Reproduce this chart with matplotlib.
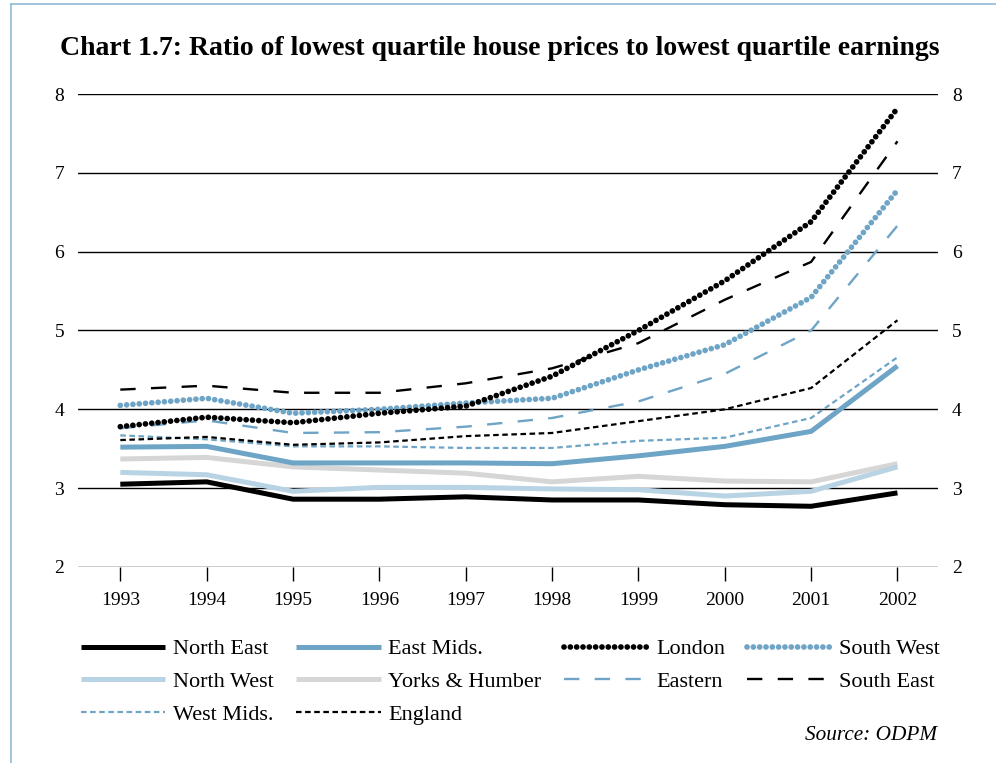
import numpy as np
import matplotlib
matplotlib.use("Agg")
import matplotlib.pyplot as plt
from matplotlib.lines import Line2D

plt.rcParams['font.family'] = ['Liberation Serif', 'DejaVu Serif']

# data
years = [1993, 1994, 1995, 1996, 1997, 1998, 1999, 2000, 2001, 2002]

north_east = [3.05, 3.08, 2.86, 2.86, 2.89, 2.85, 2.85, 2.79, 2.77, 2.94]
north_west = [3.20, 3.17, 2.96, 3.01, 3.01, 2.99, 2.98, 2.90, 2.96, 3.27]
west_mids  = [3.67, 3.62, 3.53, 3.53, 3.51, 3.51, 3.60, 3.64, 3.89, 4.66]
east_mids  = [3.52, 3.53, 3.32, 3.32, 3.32, 3.31, 3.41, 3.53, 3.72, 4.55]
yorks      = [3.37, 3.39, 3.27, 3.23, 3.19, 3.08, 3.15, 3.09, 3.08, 3.31]
england    = [3.61, 3.65, 3.55, 3.58, 3.66, 3.70, 3.85, 4.00, 4.27, 5.13]
london     = [3.78, 3.90, 3.83, 3.95, 4.04, 4.42, 5.00, 5.63, 6.38, 7.82]
eastern    = [3.76, 3.86, 3.70, 3.71, 3.78, 3.89, 4.10, 4.45, 5.00, 6.33]
south_west = [4.05, 4.14, 3.95, 4.00, 4.08, 4.14, 4.50, 4.82, 5.42, 6.78]
south_east = [4.25, 4.30, 4.21, 4.21, 4.33, 4.52, 4.84, 5.39, 5.87, 7.40]

blue = '#6ea4c5'
light_blue = '#b8d3e4'
grey = '#d6d6d6'

fig = plt.figure(figsize=(9.96, 7.63), dpi=100)
ax = fig.add_axes([0.0783, 0.2569, 0.8635, 0.6199])

for y in range(2, 9):
  ax.axhline(y, color='black', lw=1.0, zorder=1)

solid = dict(solid_capstyle='butt', solid_joinstyle='round')
dots = dict(dash_capstyle='round', dash_joinstyle='round')
# draw order: heavy lines first
ax.plot(years, yorks, color=grey, lw=3.6, label='Yorks & Humber', **solid)
ax.plot(years, north_west, color=light_blue, lw=3.6, label='North West', **solid)
ax.plot(years, east_mids, color=blue, lw=3.6, label='East Mids.', **solid)
ax.plot(years, north_east, color='black', lw=3.6, label='North East', **solid)
ax.plot(years, west_mids, color=blue, lw=1.6, ls=(0, (2.5, 1.6)), label='West Mids.')
ax.plot(years, england, color='black', lw=1.6, ls=(0, (2.5, 1.6)), label='England')
ax.plot(years, eastern, color=blue, lw=1.7, ls=(0, (6.5, 6.5)), label='Eastern')
ax.plot(years, south_east, color='black', lw=1.7, ls=(0, (6.5, 6.5)), label='South East')
ax.plot(years, south_west, color=blue, lw=4.1, ls=(0, (0.01, 1.1)), label='South West', **dots)
ax.plot(years, london, color='black', lw=4.1, ls=(0, (0.01, 1.1)), label='London', **dots)

ax.set_xlim(1992.51, 2002.47)
ax.set_ylim(2, 8)
ax.set_xticks(years)
ax.set_yticks(range(2, 9))
for s in ax.spines.values():
  s.set_visible(False)
ax.tick_params(axis='x', length=10, width=1, direction='out', labelsize=14, pad=8)
ax.tick_params(axis='y', length=0, labelsize=14, pad=10, labelright=True)

# legend in the same order as the original (column-first)
h, l = ax.get_legend_handles_labels()
hd = dict(zip(l, h))
order = ['North East', 'North West', 'West Mids.', 'East Mids.', 'Yorks & Humber',
         'England', 'London', 'Eastern', 'South West', 'South East']
fig.legend([hd[k] for k in order], order, ncol=4, loc='upper left',
           bbox_to_anchor=(0.0724, 0.1744), frameon=False, fontsize=16,
           handlelength=3.8, handletextpad=0.35, columnspacing=1.0,
           labelspacing=0.55, borderaxespad=0)

fig.text(0.06, 0.937, 'Chart 1.7: Ratio of lowest quartile house prices to lowest quartile earnings',
         fontsize=20, fontweight='bold', va='center', ha='left')
fig.text(0.941, 0.036, 'Source: ODPM', fontsize=15.3, style='italic', ha='right', va='center')

# thin border on left and top
fig.add_artist(Line2D([0.011, 0.011], [0, 0.995], color='#8dbad6', lw=1.2, transform=fig.transFigure))
fig.add_artist(Line2D([0.011, 1], [0.995, 0.995], color='#8dbad6', lw=1.2, transform=fig.transFigure))

fig.savefig('out.png', dpi=100)
